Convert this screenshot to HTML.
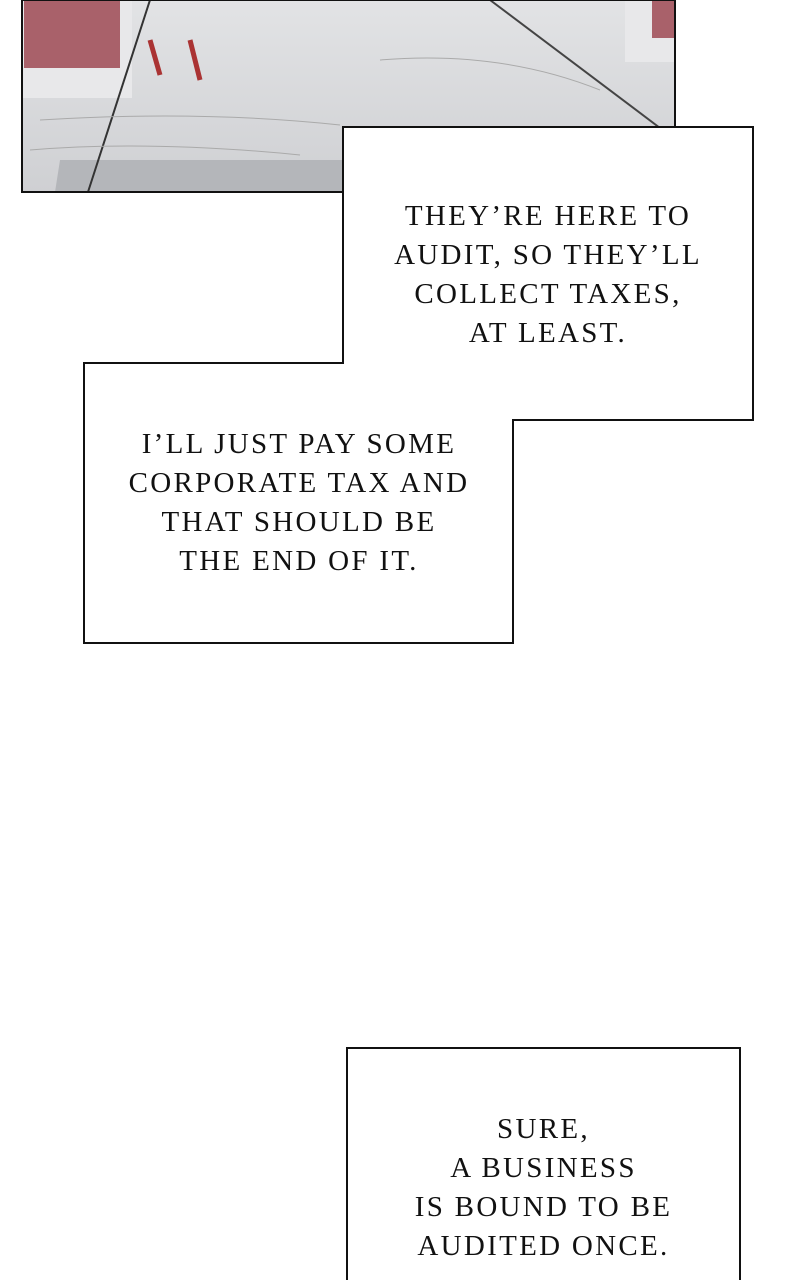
<!DOCTYPE html>
<html><head><meta charset="utf-8"><style>
html,body{margin:0;padding:0;background:#fff;width:800px;height:1280px;overflow:hidden;position:relative}
.t{position:absolute;font-family:"Liberation Serif",serif;font-size:29px;line-height:39px;text-align:center;color:#111;letter-spacing:2.3px}
</style></head><body>
<svg width="800" height="1280" style="position:absolute;left:0;top:0">
<defs><linearGradient id="m" x1="0" y1="0" x2="0" y2="1"><stop offset="0" stop-color="#e2e3e5"/><stop offset="1" stop-color="#cfd0d3"/></linearGradient></defs>
<rect x="22" y="0" width="653" height="192" fill="url(#m)"/>
<rect x="22" y="0" width="110" height="98" fill="#e8e8ea"/>
<rect x="24" y="0" width="96" height="68" fill="#a9616a"/>
<rect x="625" y="0" width="50" height="62" fill="#e8e8ea"/>
<rect x="652" y="0" width="22" height="38" fill="#a9616a"/>
<polygon points="60,160 343,160 343,192 55,192" fill="#b4b6ba"/>
<line x1="150" y1="0" x2="88" y2="192" stroke="#333" stroke-width="2"/>
<line x1="490" y1="0" x2="660" y2="128" stroke="#444" stroke-width="2"/>
<path d="M150 40 L160 75 M190 40 L200 80" stroke="#a33" stroke-width="5"/>
<path d="M40 120 Q200 110 340 125 M30 150 Q150 140 300 155 M380 60 Q500 50 600 90" stroke="#aaa" fill="none"/>
<rect x="22" y="0" width="653" height="192" fill="none" stroke="#111" stroke-width="2"/>
<path d="M343 127 H753 V420 H513 V643 H84 V363 H343 Z" fill="#fff" stroke="#111" stroke-width="2"/>
<rect x="347" y="1048" width="393" height="240" fill="#fff" stroke="#111" stroke-width="2"/>
</svg>
<div class="t" style="left:343px;width:410px;top:197px">THEY’RE HERE TO<br>AUDIT, SO THEY’LL<br>COLLECT TAXES,<br>AT LEAST.</div>
<div class="t" style="left:84px;width:430px;top:425px">I’LL JUST PAY SOME<br>CORPORATE TAX AND<br>THAT SHOULD BE<br>THE END OF IT.</div>
<div class="t" style="left:347px;width:393px;top:1110px">SURE,<br>A BUSINESS<br>IS BOUND TO BE<br>AUDITED ONCE.</div>
</body></html>
